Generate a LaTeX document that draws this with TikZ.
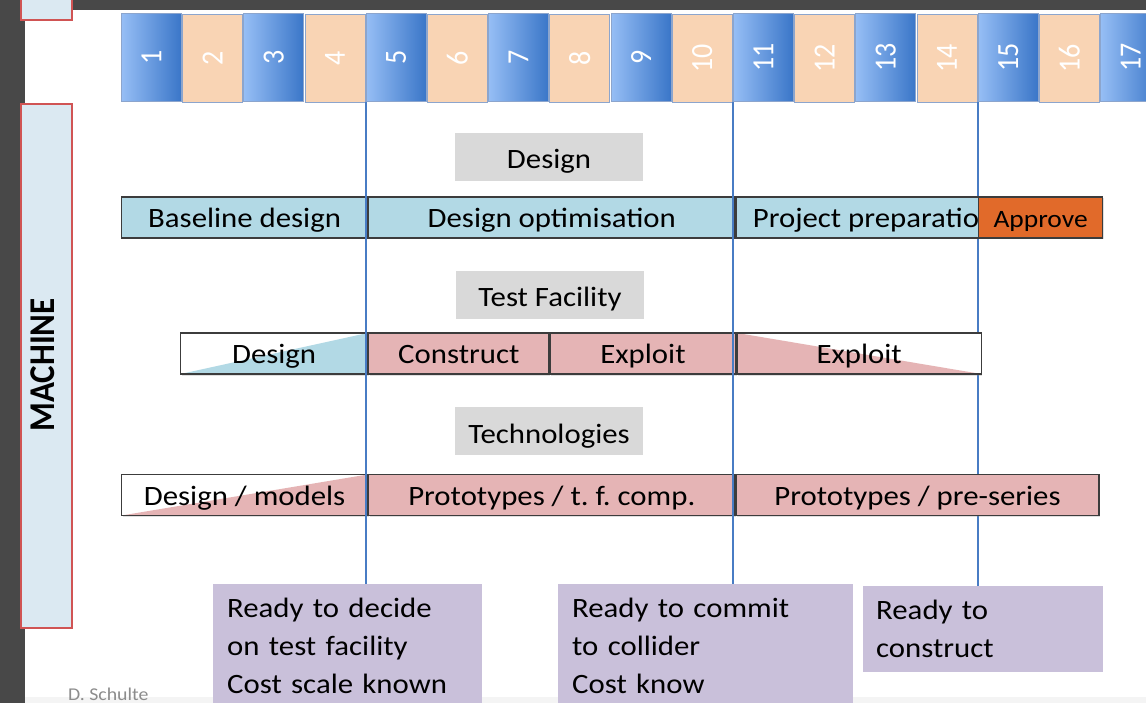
\documentclass[tikz,border=0pt]{standalone}
\usepackage{fontspec}
\setmainfont{Carlito}[FakeStretch=1.1]
\newfontfamily\uprightfont{Carlito}
\usetikzlibrary{shadows}

\definecolor{slidebg}{RGB}{72,72,72}
\definecolor{footgray}{RGB}{244,244,244}
\definecolor{machfill}{RGB}{219,233,242}
\definecolor{machred}{RGB}{208,84,84}
\definecolor{yblueL}{RGB}{150,190,245}
\definecolor{yblueR}{RGB}{58,118,200}
\definecolor{yorange}{RGB}{249,212,180}
\definecolor{yframe}{RGB}{140,165,205}
\definecolor{mileblue}{RGB}{72,124,196}
\definecolor{hdrgray}{RGB}{217,217,217}
\definecolor{barline}{RGB}{60,60,60}
\definecolor{barblue}{RGB}{178,217,229}
\definecolor{barpink}{RGB}{229,180,181}
\definecolor{approve}{RGB}{225,106,42}
\definecolor{mslav}{RGB}{201,192,218}
\definecolor{credit}{RGB}{140,140,140}

\newcommand\slidefont{\fontsize{28}{38}\selectfont}
\frenchspacing

\begin{document}
\begin{tikzpicture}[x=1pt,y=-1pt,
    machbox/.style={draw=machred,line width=2pt,fill=machfill,inner sep=0pt},
    yearbox/.style={anchor=north west,draw=yframe,line width=0.8pt,minimum width=60pt,
      minimum height=88pt,inner sep=0pt,text=white,font=\uprightfont\fontsize{28}{28}\selectfont},
    oddyear/.style={yearbox,left color=yblueL,right color=yblueR},
    evenyear/.style={yearbox,fill=yorange},
    header/.style={fill=hdrgray,minimum width=188pt,minimum height=48pt,inner sep=0pt,
      text height=24pt,text depth=0pt,font=\slidefont},
    bar/.style={anchor=west,draw=barline,line width=1.2pt,minimum height=41pt,inner sep=0pt,
      text height=21pt,text depth=1pt,font=\slidefont,
      drop shadow={shadow xshift=1pt,shadow yshift=-1.5pt,opacity=0.25}},
    rise/.style={path picture={\fill[#1] (path picture bounding box.south west)
      -- (path picture bounding box.north east) -- (path picture bounding box.south east) -- cycle;}},
    fall/.style={path picture={\fill[#1] (path picture bounding box.north west)
      -- (path picture bounding box.south east) -- (path picture bounding box.south west) -- cycle;}},
    milestone/.style={anchor=north west,fill=mslav,align=left,font=\slidefont,
      inner xsep=14pt,inner ysep=14pt},
    mile/.style={draw=mileblue,line width=2pt}]

  \useasboundingbox (0,0) rectangle (1146,703);

  % slide on the dark backdrop
  \fill[slidebg] (0,0) rectangle (1146,703);
  \fill[white] (25,10) rectangle (1146,703);
  \fill[footgray] (25,697) rectangle (1146,703);
  \node[font=\fontsize{18}{18}\selectfont,text=credit,anchor=base west,inner sep=0pt] (credit) at (68,700) {D. Schulte};

  % side labels
  \node[machbox,anchor=south west,minimum width=51pt,minimum height=40pt] (prevbox) at (20,21) {};
  \node[machbox,anchor=north west,minimum width=51pt,minimum height=524pt] (machine) at (20,103) {};
  \node[font=\uprightfont\bfseries\fontsize{33}{33}\selectfont] (machlabel) at (43,365)
    {\rotatebox{90}{\scalebox{1}[1.1]{MACHINE}}};

  % years
  \foreach \i in {1,3,...,17}
    \node[oddyear] (y\i) at ({121+(\i-1)*61.2},13) {\rotatebox{90}{\scalebox{1}[1.1]{\i}}};
  \foreach \i in {2,4,...,16}
    \node[evenyear] (y\i) at ({121+(\i-1)*61.2},14) {\rotatebox{90}{\scalebox{1}[1.1]{\i}}};

  % milestones
  \node[milestone,text width=241pt] (dec) at (213,584) {Ready to decide\\on test facility\\Cost scale known};
  \node[milestone,text width=267pt] (commit) at (558,584) {Ready to commit\\to collider\\Cost know};
  \node[milestone,text width=214pt,inner xsep=13pt] (constr) at (863,586) {Ready to\\construct};

  \draw[mile] (y15.south west) -- (y15.south west |- constr.north);

  % group titles
  \node[header] (hdes) at (549,157) {Design};
  \node[header] (htf) at (550,295) {Test Facility};
  \node[header] (htech) at (549,431) {Technologies};

  % design
  \node[bar,fill=barblue,minimum width=246pt] (base) at (121,217.5) {Baseline design};
  \node[bar,fill=barblue,minimum width=366pt] (opt) at (base.east) {Design optimisation};
  \node[bar,fill=barblue,minimum width=276pt] (prep) at (opt.east) {Project preparation};
  \node[bar,fill=approve,minimum width=124pt,font=\fontsize{25}{25}\selectfont] (appr) at (978,217.5) {Approve};

  % test facility
  \node[bar,fill=white,rise=barblue,minimum width=187pt] (tfdes) at (180,353.5) {Design};
  \node[bar,fill=barpink,minimum width=180pt] (cons) at (tfdes.east) {Construct};
  \node[bar,fill=barpink,minimum width=186pt] (expl) at (cons.east) {Exploit};
  \node[bar,fill=white,fall=barpink,minimum width=244pt] (explb) at (expl.east) {Exploit};

  % technologies
  \node[bar,fill=white,rise=barpink,minimum width=246pt] (models) at (121,495) {Design / models};
  \node[bar,fill=barpink,minimum width=366pt] (proto) at (models.east) {Prototypes / t. f. comp.};
  \node[bar,fill=barpink,minimum width=363pt] (preser) at (proto.east) {Prototypes / pre-series};

  \draw[mile] (y5.south west) -- (y5.south west |- dec.north);
  \draw[mile] (y11.south west) -- (y11.south west |- commit.north);
\end{tikzpicture}
\end{document}
